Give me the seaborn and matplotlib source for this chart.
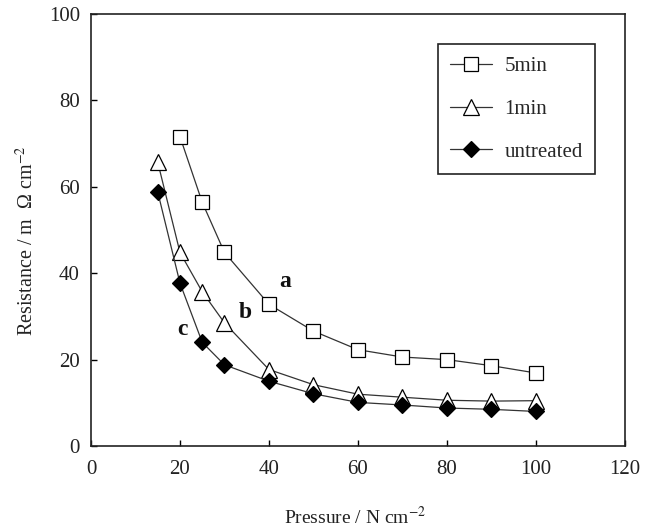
import matplotlib
matplotlib.use("Agg")
import matplotlib.pyplot as plt
import seaborn as sns
import pandas as pd

# ---- data ----
pressure_5min = [20, 25, 30, 40, 50, 60, 70, 80, 90, 100]
res_5min = [71.6, 56.4, 44.8, 32.8, 26.6, 22.3, 20.6, 20.0, 18.6, 16.9]
pressure_other = [15, 20, 25, 30, 40, 50, 60, 70, 80, 90, 100]
res_1min = [65.7, 44.8, 35.7, 28.5, 17.7, 14.2, 12.0, 11.3, 10.6, 10.4, 10.5]
res_untreated = [58.8, 37.7, 24.0, 18.8, 15.0, 12.1, 10.1, 9.5, 8.8, 8.5, 8.0]
series_names = ["5min", "1min", "untreated"]
curve_letters = ["a", "b", "c"]
letter_pos = [(43.6, 38.1), (34.6, 30.9), (20.6, 27.0)]
x_ticks = [0, 20, 40, 60, 80, 100, 120]
y_ticks = [0, 20, 40, 60, 80, 100]

sns.set_theme(style="white")
plt.rcParams["font.family"] = ["Liberation Serif", "DejaVu Serif"]
plt.rcParams["mathtext.fontset"] = "stix"

fig = plt.figure(figsize=(6.5, 5.31), dpi=100)
ax = fig.add_axes([0.140, 0.160, 0.8215, 0.8136])

df5 = pd.DataFrame({"x": pressure_5min, "y": res_5min})
df1 = pd.DataFrame({"x": pressure_other, "y": res_1min})
dfu = pd.DataFrame({"x": pressure_other, "y": res_untreated})

common = dict(color="#333333", linewidth=0.9, markeredgecolor="black",
              markeredgewidth=0.9, ax=ax)
sns.lineplot(data=df5, x="x", y="y", marker="s", markersize=10,
             markerfacecolor="white", label=series_names[0], **common)
sns.lineplot(data=df1, x="x", y="y", marker="^", markersize=11,
             markerfacecolor="white", label=series_names[1], **common)
sns.lineplot(data=dfu, x="x", y="y", marker="D", markersize=8,
             markerfacecolor="black", label=series_names[2], **common)

for lt, (lx, ly) in zip(curve_letters, letter_pos):
    ax.text(lx, ly, lt, fontsize=17, fontweight="bold", ha="center", va="center",
            color="#111111")

ax.set_xlim(0, 120)
ax.set_ylim(0, 100)
ax.set_xticks(x_ticks)
ax.set_yticks(y_ticks)
ax.tick_params(axis="both", direction="in", length=4.5, width=1.0, colors="black",
               labelsize=15, labelcolor="#222222")
ax.tick_params(axis="x", pad=10)
ax.tick_params(axis="y", pad=8)
ax.xaxis.set_ticks_position("bottom")
ax.yaxis.set_ticks_position("left")
for s in ax.spines.values():
    s.set_visible(True)
    s.set_color("#222222")
    s.set_linewidth(1.2)

ax.set_xlabel(r"Pressure / N cm$^{-2}$", fontsize=14, color="#222222")
ax.set_ylabel(r"Resistance / m  Ω cm$^{-2}$", fontsize=14.5, color="#222222")
ax.xaxis.set_label_coords(0.494, -0.164)
ax.xaxis.label.set_va("center")
ax.yaxis.set_label_coords(-0.120, 0.475)
ax.yaxis.label.set_va("center")

leg = ax.legend(loc="upper right", bbox_to_anchor=(0.944, 0.930),
                borderaxespad=0, frameon=True, fancybox=False, fontsize=15,
                labelspacing=1.12, handlelength=2.0, handletextpad=0.6,
                borderpad=0.58, numpoints=1)
leg.get_frame().set_edgecolor("#222222")
leg.get_frame().set_linewidth(1.2)
leg.get_frame().set_facecolor("white")
leg.get_frame().set_alpha(1)

fig.savefig("out.png", dpi=100, facecolor="white")
